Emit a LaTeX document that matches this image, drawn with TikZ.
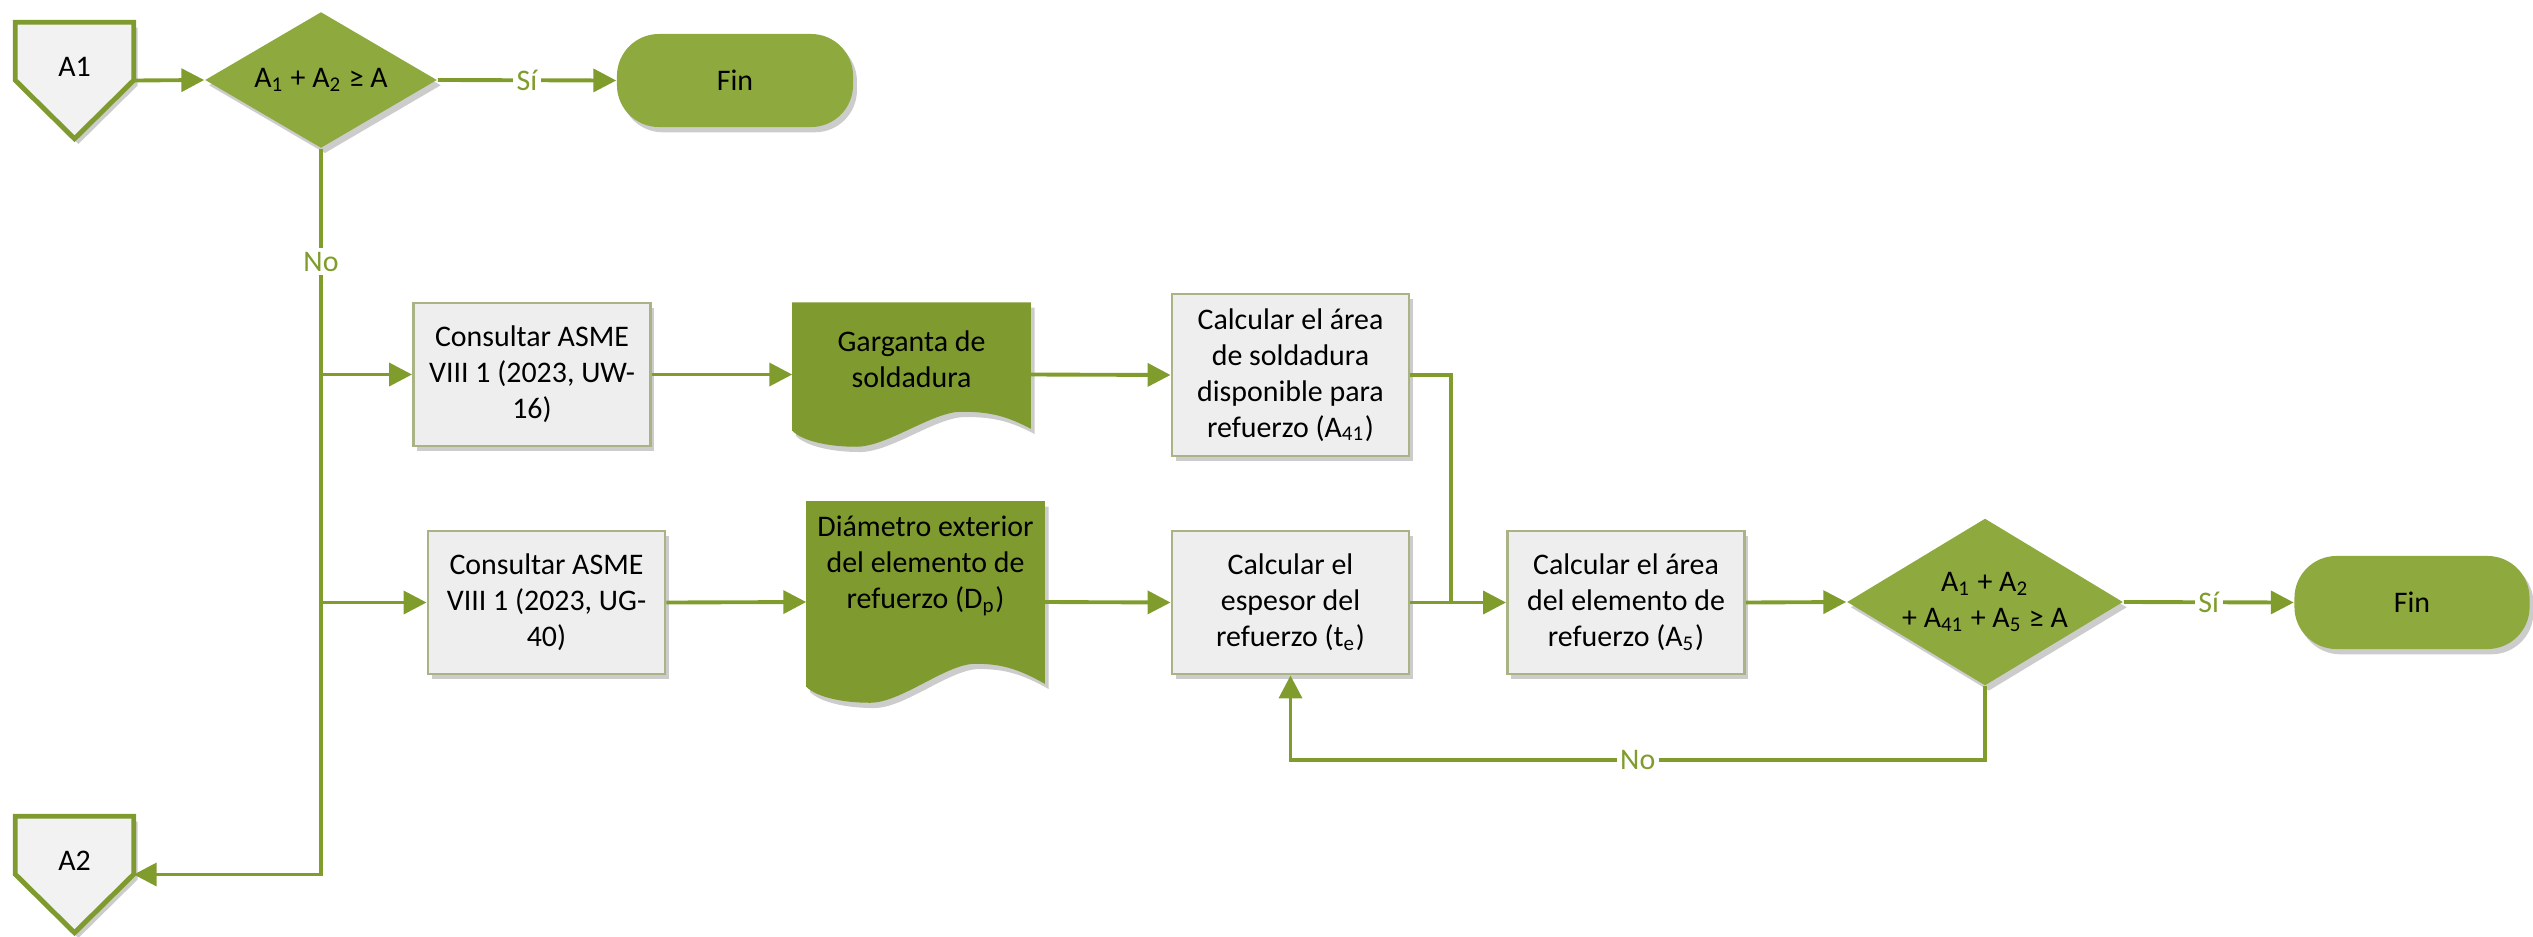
\documentclass[tikz,border=0pt]{standalone}
\usepackage{fontspec}
\setmainfont{Carlito}
\usetikzlibrary{shapes.geometric,arrows.meta,calc,shadows}
\definecolor{linegreen}{HTML}{809C2C}
\definecolor{docgreen}{HTML}{7F9A2E}
\definecolor{decgreen}{HTML}{8EA93E}
\definecolor{boxfill}{HTML}{EEEEEE}
\definecolor{boxline}{HTML}{A9B386}
\definecolor{pentfill}{HTML}{F2F2F2}

\begin{document}
\begin{tikzpicture}[x=0.01cm,y=-0.01cm,
  font=\fontsize{8.5}{10.2}\selectfont,
  shad/.style={drop shadow={shadow xshift=1.1pt,shadow yshift=-1.5pt,fill=black!20,opacity=1}},
  procbox/.style={rectangle,fill=boxfill,draw=boxline,line width=0.8pt,
    minimum width=2.37cm,minimum height=1.43cm,align=center,inner sep=0pt,shad},
  decision/.style={diamond,fill=decgreen,inner sep=0pt,align=center,shad},
  terminal/.style={rectangle,rounded corners=0.42cm,fill=decgreen,
    minimum width=2.36cm,minimum height=0.93cm,shad},
  docnode/.style={rectangle,minimum width=2.37cm,inner sep=0pt},
  doctext/.style={align=center,inner sep=0pt},
  offpage/.style={rectangle,minimum width=1.17cm,minimum height=1.15cm,inner sep=0pt},
  pentagon/.style={fill=pentfill,draw=docgreen,line width=1.4pt,line join=miter,shad},
  link/.style={draw=linegreen,line width=1.1pt},
  arr/.style={link,-{Triangle[length=6.5pt,width=6.5pt]}},
  lbl/.style={fill=white,text=linegreen,inner sep=1pt},
]
\useasboundingbox (0,0) rectangle (2533,936);

% off-page connectors
\node[offpage] (a1) at (74.5,80.5) {};
\filldraw[pentagon] (a1.north west) -- (a1.north east) -- ($(a1.north east)+(0,58)$)
  -- (a1.south) -- ($(a1.north west)+(0,58)$) -- cycle;
\node[inner sep=0pt] (a1t) at ($(a1.north)+(0,45)$) {A1};

\node[offpage] (a2) at (74.5,874.5) {};
\filldraw[pentagon] (a2.north west) -- (a2.north east) -- ($(a2.north east)+(0,58)$)
  -- (a2.south) -- ($(a2.north west)+(0,58)$) -- cycle;
\node[inner sep=0pt] (a2t) at ($(a2.north)+(0,45)$) {A2};

% top row
\node[decision,minimum width=2.32cm,minimum height=1.36cm,shape aspect=1.7] (d1) at (321,80)
  {A\textsubscript{1} + A\textsubscript{2} ≥ A};
\node[terminal] (f1) at (735,80.5) {Fin};

% middle row
\node[procbox] (b1) at (532,374.5) {Consultar ASME\\VIII 1 (2023, UW-\\16)};
\node[docnode,minimum height=1.43cm] (g) at (911.5,374.5) {};
\fill[docgreen,shad] (g.north west) -- (g.north east) -- ($(g.south east)+(0,-18)$)
  .. controls ($(g.south west)+(212,-32)$) and ($(g.south west)+(195,-35)$) .. ($(g.south west)+(169,-35)$)
  .. controls ($(g.south west)+(140,-35)$) and ($(g.south west)+(95,0)$) .. ($(g.south west)+(64,0)$)
  .. controls ($(g.south west)+(35,0)$) and ($(g.south west)+(10,-6)$) .. ($(g.south west)+(0,-16)$)
  -- cycle;
\node[doctext] (gt) at ($(g.center)+(0,-15)$) {Garganta de\\soldadura};
\node[procbox,minimum height=1.62cm] (c1) at (1290.5,375)
  {Calcular el área\\de soldadura\\disponible para\\refuerzo (A\textsubscript{41})};

% lower row
\node[procbox] (b2) at (546.5,602.5) {Consultar ASME\\VIII 1 (2023, UG-\\40)};
\node[docnode,minimum height=2.0cm] (dp) at (925.5,602) {};
\fill[docgreen,shad] (dp.north west) -- (dp.north east) -- ($(dp.south east)+(0,-19)$)
  .. controls ($(dp.south west)+(212,-34)$) and ($(dp.south west)+(195,-39)$) .. ($(dp.south west)+(169,-39)$)
  .. controls ($(dp.south west)+(140,-39)$) and ($(dp.south west)+(95,0)$) .. ($(dp.south west)+(64,0)$)
  .. controls ($(dp.south west)+(35,0)$) and ($(dp.south west)+(10,-6)$) .. ($(dp.south west)+(0,-16)$)
  -- cycle;
\node[doctext] (dpt) at ($(dp.center)+(0,-36)$) {Diámetro exterior\\del elemento de\\refuerzo (D\textsubscript{p})};
\node[procbox] (e) at (1290.5,602.5) {Calcular el\\espesor del\\refuerzo (t\textsubscript{e})};
\node[procbox] (a5) at (1626,602.5) {Calcular el área\\del elemento de\\refuerzo (A\textsubscript{5})};
\node[decision,minimum width=2.76cm,minimum height=1.67cm,shape aspect=1.65] (d2) at (1985,602)
  {A\textsubscript{1} + A\textsubscript{2}\\+ A\textsubscript{41} + A\textsubscript{5} ≥ A};
\node[terminal,minimum width=2.35cm] (f2) at (2412,602.5) {Fin};

% connectors
\draw[arr] (a1.east) -- (d1.west);
\draw[arr] (d1.east) -- node[lbl]{Sí} (f1.west);
\coordinate (j1) at (d1.south |- b1.west);
\coordinate (j2) at (d1.south |- b2.west);
\coordinate (j3) at (d1.south |- a2.east);
\draw[arr] (d1.south) -- node[lbl]{No} (j1) -- (j3) -- (a2.east);
\draw[arr] (j1) -- (b1.west);
\draw[arr] (j2) -- (b2.west);
\draw[arr] (b1.east) -- (g.west);
\draw[arr] (g.east) -- (c1.west);
\draw[arr] (b2.east) -- (dp.west);
\draw[arr] (dp.east) -- (e.west);
\coordinate (m) at ($(e.east)!0.42!(a5.west)$);
\draw[link] (c1.east) -| (m);
\draw[arr] (e.east) -- (a5.west);
\draw[arr] (a5.east) -- (d2.west);
\draw[arr] (d2.east) -- node[lbl]{Sí} (f2.west);
\coordinate (lp) at ($(d2.south)+(0,74)$);
\draw[arr] (d2.south) -- (lp) -- node[lbl]{No} (e.south |- lp) -- (e.south);
\end{tikzpicture}
\end{document}
